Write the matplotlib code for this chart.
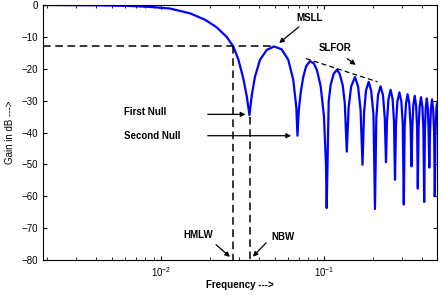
import numpy as np
import matplotlib
matplotlib.use("Agg")
import matplotlib.pyplot as plt

plt.rcParams['font.family'] = ['Liberation Sans', 'DejaVu Sans']
plt.rcParams['mathtext.fontset'] = 'custom'
plt.rcParams['mathtext.rm'] = 'Liberation Sans'

# gain curve (frequency, gain in dB)
freq = [0.00189, 0.00422, 0.00645, 0.00856, 0.01136, 0.01506, 0.01862, 0.02197,
        0.02530, 0.02778, 0.02980, 0.03198, 0.03356, 0.03491,
        0.03601, 0.03773, 0.04050, 0.04452, 0.04935, 0.05501, 0.06039, 0.06481,
        0.06762, 0.06877,
        0.07005, 0.07196, 0.07464, 0.07776, 0.08205, 0.08657, 0.09060, 0.09546,
        0.1000, 0.10287, 0.10389,
        0.10686, 0.10993, 0.11469, 0.12018, 0.1250, 0.1304, 0.13417, 0.1380,
        0.1417, 0.1469, 0.1550, 0.1619, 0.1677, 0.1723,
        0.1760, 0.1810, 0.1880, 0.1948, 0.2012, 0.2055,
        0.2094, 0.2145, 0.2222, 0.2301, 0.2360, 0.2401,
        0.2435, 0.2487, 0.2562, 0.2636, 0.2688, 0.2727,
        0.2765, 0.2820, 0.2901, 0.2984, 0.3043, 0.3087,
        0.3126, 0.3184, 0.3257, 0.3337, 0.3398, 0.3442,
        0.3481, 0.3531, 0.3601, 0.3673, 0.3726, 0.3763,
        0.3805, 0.3859, 0.3936, 0.4015, 0.4072, 0.4118,
        0.4159, 0.4206, 0.4272, 0.4339, 0.4382, 0.4426,
        0.4470, 0.4527, 0.4598, 0.4677, 0.4737, 0.4784,
        0.4831, 0.4900, 0.4935]
gain = [0.0, -0.1, -0.3, -0.6, -1.1, -2.6, -4.6, -7.0,
        -10.0, -13.0, -17.0, -23.0, -28.5, -34.5,
        -28.5, -22.5, -17.2, -14.1, -13.0, -13.9, -17.2, -23.5,
        -32.0, -41.0,
        -33.0, -27.5, -22.5, -19.2, -17.6, -18.3, -20.5, -25.5,
        -35.0, -50.0, -63.7,
        -30.3, -25.0, -21.6, -20.3, -21.7, -25.3, -30.8, -46.0,
        -32.0, -25.5, -22.6, -25.6, -33.0, -50.1,
        -34.0, -26.8, -24.1, -26.9, -34.5, -64.0,
        -35.5, -28.3, -25.5, -28.3, -35.5, -49.3,
        -36.5, -29.5, -26.6, -29.5, -36.5, -54.8,
        -37.4, -30.3, -27.4, -30.3, -37.4, -62.6,
        -38.0, -31.0, -28.0, -31.0, -38.0, -50.6,
        -38.5, -31.5, -28.5, -31.5, -38.5, -57.6,
        -39.0, -32.0, -28.9, -32.0, -39.0, -61.8,
        -39.5, -32.5, -29.3, -32.5, -39.5, -51.0,
        -40.0, -32.8, -29.6, -32.8, -40.0, -60.0,
        -40.0, -32.0, -31.0]

msll = -13.0
hmlw_freq = 0.02754
nbw_freq = 0.03516
first_null = -34.5
slfor_freq = [0.0776, 0.2130]
slfor_gain = [-16.8, -24.1]

fig = plt.figure(figsize=(4.42, 2.95), dpi=100)
ax = fig.add_axes([0.0973, 0.1186, 0.8914, 0.8644])

ax.semilogx(freq, gain, color='#0000ff', lw=1.6)

dash = dict(color='k', lw=1.1, ls=(0, (5, 3)))
ax.plot([0.00189, 0.0500], [msll, msll], **dash)
ax.plot([hmlw_freq, hmlw_freq], [msll, -80], **dash)
ax.plot([nbw_freq, nbw_freq], [first_null - 0.5, -80], **dash)
ax.plot(slfor_freq, slfor_gain, color='k', lw=0.9, ls=(0, (4, 2.5)))

ax.set_xlim(0.00189, 0.4935)
ax.set_ylim(-80, 0)
ax.set_yticks(np.arange(-80, 1, 10))
ax.tick_params(which='both', direction='in', top=True, right=True, labelsize=7)
ax.tick_params(which='major', length=3)
ax.tick_params(which='minor', length=2)

ax.set_xlabel('Frequency --->', fontsize=7, fontweight='bold', labelpad=1)
ax.set_ylabel('Gain in dB --->', fontsize=7, labelpad=5)

arr = dict(arrowstyle='-|>', color='k', lw=0.9, mutation_scale=7)
tx = dict(fontsize=7, fontweight='bold')
ax.annotate('', xy=(0.0515, -12.5), xytext=(0.0723, -6.3), arrowprops=arr)
ax.text(0.0821, -4.1, 'MSLL', ha='center', va='center', **tx)
ax.annotate('', xy=(0.1617, -19.3), xytext=(0.1345, -16.3), arrowprops=arr)
ax.text(0.1168, -13.5, 'SLFOR', ha='center', va='center', **tx)
ax.annotate('', xy=(0.03433, -34.3), xytext=(0.01862, -34.3), arrowprops=arr)
ax.text(0.00593, -33.5, 'First Null', ha='left', va='center', **tx)
ax.annotate('', xy=(0.0654, -41.0), xytext=(0.01862, -41.0), arrowprops=arr)
ax.text(0.00593, -41.1, 'Second Null', ha='left', va='center', **tx)
ax.annotate('', xy=(0.02727, -79.6), xytext=(0.02114, -74.6), arrowprops=arr)
ax.text(0.01687, -72.3, 'HMLW', ha='center', va='center', **tx)
ax.annotate('', xy=(0.03566, -79.6), xytext=(0.0453, -74.0), arrowprops=arr)
ax.text(0.05642, -72.7, 'NBW', ha='center', va='center', **tx)

fig.savefig('out.png', dpi=100)
